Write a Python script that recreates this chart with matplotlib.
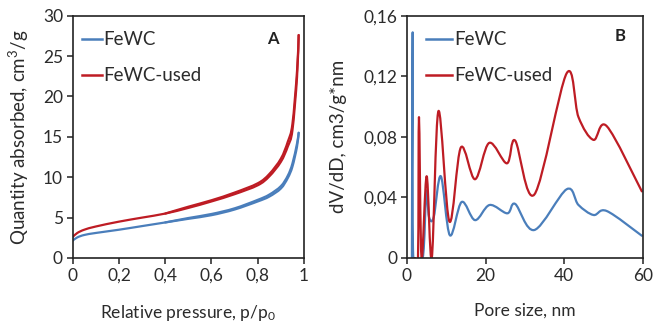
import numpy as np
import matplotlib
matplotlib.use("Agg")
import matplotlib.pyplot as plt
from matplotlib.path import Path
from matplotlib.patches import PathPatch
from matplotlib.lines import Line2D

plt.rcParams['font.family'] = ['Lato', 'DejaVu Sans']
plt.rcParams['mathtext.default'] = 'regular'

BLUE = '#4a7ebb'
RED = '#be1c24'

# ---- Panel A: isotherms ----
pA = [0.0, 0.02, 0.05, 0.1, 0.2, 0.3, 0.4, 0.5, 0.6, 0.7, 0.8, 0.85, 0.9, 0.93, 0.95, 0.97, 0.977]
feWC_ads = [2.15, 2.55, 2.85, 3.1, 3.5, 3.95, 4.4, 4.85, 5.3, 6.0, 7.0, 7.6, 8.6, 9.9, 11.3, 13.8, 15.5]
feWCu_ads = [2.6, 3.1, 3.5, 3.9, 4.5, 5.0, 5.5, 6.2, 7.0, 7.9, 9.0, 10.1, 11.9, 13.8, 15.8, 22.4, 27.6]
pD = [0.4, 0.5, 0.6, 0.7, 0.8, 0.85, 0.9, 0.93, 0.95, 0.97, 0.977]
feWC_des = [4.4, 4.95, 5.45, 6.15, 7.2, 7.85, 8.9, 10.2, 11.7, 14.2, 15.5]
feWCu_des = [5.5, 6.35, 7.15, 8.1, 9.25, 10.4, 12.3, 14.4, 16.6, 23.2, 27.6]

# ---- Panel B: pore size distribution ----
dB_blue = [1.25, 1.45, 1.6, 4.0, 4.9, 5.6, 6.8, 8.6, 10.9, 13.9, 17.3, 21.0, 25.5, 27.5, 32.4, 40.6, 43.6, 47.4, 50.8, 59.7]
vB_blue = [0.0, 0.149, 0.0, 0.0, 0.044, 0.027, 0.027, 0.054, 0.015, 0.037, 0.025, 0.035, 0.0295, 0.0357, 0.0185, 0.0454, 0.035, 0.0284, 0.031, 0.0147]
dB_red = [2.0, 2.8, 3.05, 3.7, 5.0, 6.3, 8.0, 10.8, 13.7, 17.3, 20.9, 25.4, 27.5, 32.4, 40.6, 43.6, 47.4, 50.8, 59.7]
vB_red = [0.0, 0.0, 0.093, 0.0, 0.054, 0.0, 0.097, 0.024, 0.073, 0.052, 0.076, 0.0625, 0.0775, 0.042, 0.122, 0.093, 0.078, 0.087, 0.044]

xticksA = [0, 0.2, 0.4, 0.6, 0.8, 1.0]
xticklabelsA = ['0', '0,2', '0,4', '0,6', '0,8', '1']
yticksA = [0, 5, 10, 15, 20, 25, 30]
xticksB = [0, 20, 40, 60]
yticksB = [0, 0.04, 0.08, 0.12, 0.16]
yticklabelsB = ['0', '0,04', '0,08', '0,12', '0,16']
labels = ['FeWC', 'FeWC-used']


def smooth_path(x, y):
    """Excel-like smoothed line: Catmull-Rom converted to cubic Bezier segments."""
    P = np.column_stack([x, y]).astype(float)
    n = len(P)
    verts = [P[0]]
    codes = [Path.MOVETO]
    for i in range(n - 1):
        p0 = P[i - 1] if i > 0 else P[i]
        p1 = P[i]
        p2 = P[i + 1]
        p3 = P[i + 2] if i + 2 < n else P[i + 1]
        c1 = p1 + (p2 - p0) / 6.0
        c2 = p2 - (p3 - p1) / 6.0
        verts += [c1, c2, p2]
        codes += [Path.CURVE4] * 3
    return Path(verts, codes)


def draw(ax, x, y, color, lw=1.6):
    patch = PathPatch(smooth_path(x, y), facecolor='none', edgecolor=color, lw=lw,
                      capstyle='round', joinstyle='round')
    ax.add_patch(patch)


TXT = '#2b2b2b'
fig = plt.figure(figsize=(6.56, 3.26), dpi=100)
axA = fig.add_axes([0.1108, 0.2086, 0.3526, 0.7433])
axB = fig.add_axes([0.6204, 0.2086, 0.3598, 0.7433])

for ax in (axA, axB):
    for s in ax.spines.values():
        s.set_linewidth(1.2)
        s.set_color('#222222')
    ax.tick_params(direction='out', length=4, width=1.1, labelsize=12.5, colors='#222222',
                   labelcolor=TXT, pad=3)

# Panel A
draw(axA, pA, feWC_ads, BLUE)
draw(axA, pD, feWC_des, BLUE)
draw(axA, pA, feWCu_ads, RED)
draw(axA, pD, feWCu_des, RED)
axA.set_xlim(0, 1)
axA.set_ylim(0, 30)
axA.set_xticks(xticksA)
axA.set_xticklabels(xticklabelsA)
axA.set_yticks(yticksA)
axA.set_xlabel('Relative pressure, p/p$_0$', fontsize=12.5, color=TXT)
axA.set_ylabel('Quantity absorbed, cm$^3$/g', fontsize=13.5, color=TXT)
axA.xaxis.set_label_coords(0.5, -0.185)
axA.yaxis.set_label_coords(-0.18, 0.5)
axA.text(0.866, 0.904, 'A', transform=axA.transAxes, fontsize=12, fontweight='bold',
         ha='center', va='center', color='#222222')

# Panel B
draw(axB, dB_blue, vB_blue, BLUE)
draw(axB, dB_red, vB_red, RED)
axB.set_xlim(0, 60)
axB.set_ylim(0, 0.16)
axB.set_xticks(xticksB)
axB.set_yticks(yticksB)
axB.set_yticklabels(yticklabelsB)
axB.set_xlabel('Pore size, nm', fontsize=12.5, color=TXT)
axB.set_ylabel('dV/dD, cm3/g*nm', fontsize=13.5, color=TXT)
axB.xaxis.set_label_coords(0.5, -0.185)
axB.yaxis.set_label_coords(-0.254, 0.5)
axB.text(0.903, 0.916, 'B', transform=axB.transAxes, fontsize=12, fontweight='bold',
         ha='center', va='center', color='#222222')

for ax, x0, hl in ((axA, 0.04, 1.05), (axB, 0.08, 1.4)):
    handles = [Line2D([], [], color=BLUE, lw=1.8), Line2D([], [], color=RED, lw=1.8)]
    leg = ax.legend(handles, labels, loc='upper left', bbox_to_anchor=(x0, 0.935),
                    frameon=False, fontsize=13.5, handlelength=hl, handletextpad=0.1,
                    labelspacing=1.0, borderaxespad=0, borderpad=0)
    for t in leg.get_texts():
        t.set_color(TXT)

fig.savefig('out.png', dpi=100, facecolor='white')
